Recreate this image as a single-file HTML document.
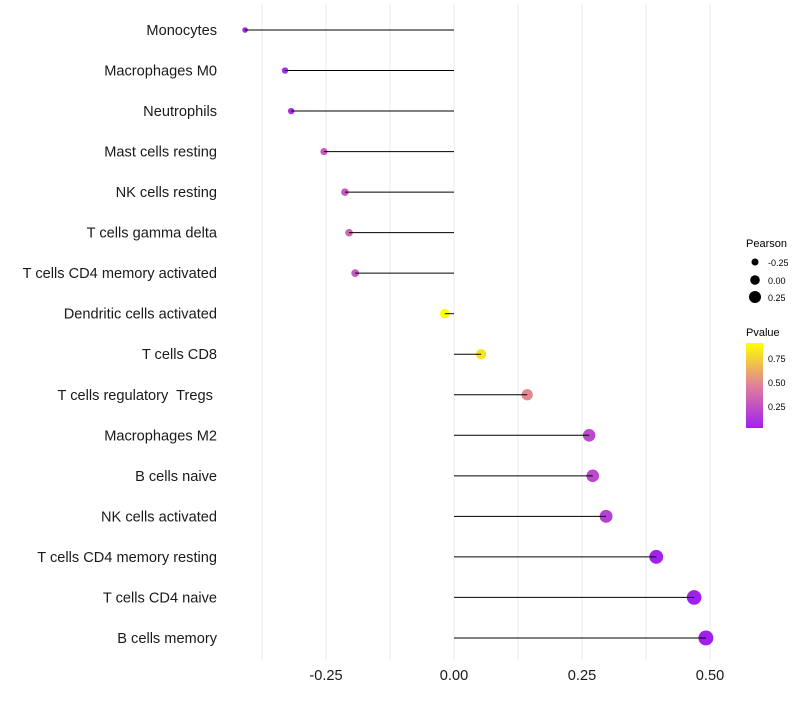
<!DOCTYPE html>
<html><head><meta charset="utf-8"><style>
body{margin:0;background:#fff;}
svg text{font-family:"Liberation Sans",sans-serif;white-space:pre;}
</style></head><body>
<svg id="chart" width="800" height="700">
<defs><linearGradient id="pg" x1="0" y1="1" x2="0" y2="0">
<stop offset="0" stop-color="#a020f0"/><stop offset="0.5" stop-color="#e0809a"/><stop offset="1" stop-color="#ffff00"/></linearGradient></defs>
<g id="grid"></g><g id="points"></g><g id="stems"></g><g id="labels"></g><g id="ticks"></g>
<g>
<text x="746" y="247" font-size="11" fill="#000">Pearson</text>
<circle cx="755" cy="262" r="3.5" fill="#000"/>
<text x="768" y="266" font-size="9">-0.25</text>
<circle cx="755" cy="280" r="4.8" fill="#000"/>
<text x="768" y="284" font-size="9">0.00</text>
<circle cx="755" cy="297" r="6" fill="#000"/>
<text x="768" y="301" font-size="9">0.25</text>
<text x="746" y="336" font-size="11">Pvalue</text>
<rect x="746" y="343" width="17" height="85" fill="url(#pg)"/>
<text x="768" y="362" font-size="9">0.75</text>
<text x="768" y="386" font-size="9">0.50</text>
<text x="768" y="410" font-size="9">0.25</text>
</g>
</svg>
<script>
const cells=["Monocytes","Macrophages M0","Neutrophils","Mast cells resting","NK cells resting","T cells gamma delta","T cells CD4 memory activated","Dendritic cells activated","T cells CD8","T cells regulatory  Tregs ","Macrophages M2","B cells naive","NK cells activated","T cells CD4 memory resting","T cells CD4 naive","B cells memory"];
const pearson=[-0.408,-0.330,-0.318,-0.254,-0.213,-0.205,-0.193,-0.018,0.053,0.143,0.264,0.271,0.297,0.395,0.469,0.492];
const pvalue=[0.05,0.08,0.1,0.3,0.3,0.35,0.3,0.92,0.82,0.5,0.22,0.22,0.18,0.04,0.03,0.03];
const tickVals=[-0.25,0,0.25,0.5];
const tickLabels=["-0.25","0.00","0.25","0.50"];
const NS="http://www.w3.org/2000/svg";
const x=v=>454+v*512;
const y=i=>30+i*40.53;
const rad=v=>Math.max(2,4.9+5.2*v);
function col(p){const t=Math.max(0,Math.min(1,(p-0.03)/(0.917-0.03)));
const a=[160,32,240],m=[224,128,154],b=[255,255,0];let c;
if(t<0.5){const s=t*2;c=a.map((v,k)=>Math.round(v+(m[k]-v)*s));}else{const s=(t-0.5)*2;c=m.map((v,k)=>Math.round(v+(b[k]-v)*s));}
return `rgb(${c.join(',')})`;}
function mk(tag,attrs,parent){const e=document.createElementNS(NS,tag);for(const k in attrs)e.setAttribute(k,attrs[k]);document.getElementById(parent).appendChild(e);return e;}
[-0.375,-0.25,-0.125,0,0.125,0.25,0.375,0.5].forEach(v=>{
const l=mk('line',{x1:x(v),x2:x(v),y1:5,y2:660,stroke:'#ebebeb','stroke-width':1},'grid');

});
cells.forEach((c,i)=>{
const p=mk('circle',{cx:x(pearson[i]),cy:y(i),r:rad(pearson[i]),fill:col(pvalue[i])},'points');


const l=mk('line',{x1:x(0),x2:x(pearson[i]),y1:y(i),y2:y(i),stroke:'#000','stroke-width':1},'stems');


const t=mk('text',{x:217,y:y(i)+5,'text-anchor':'end','font-size':14.6,fill:'#1a1a1a'},'labels');
t.textContent=c;

});
tickVals.forEach((v,i)=>{
const t=mk('text',{x:x(v),y:680,'text-anchor':'middle','font-size':14.6,fill:'#1a1a1a'},'ticks');
t.textContent=tickLabels[i];

});
</script>
</body></html>
